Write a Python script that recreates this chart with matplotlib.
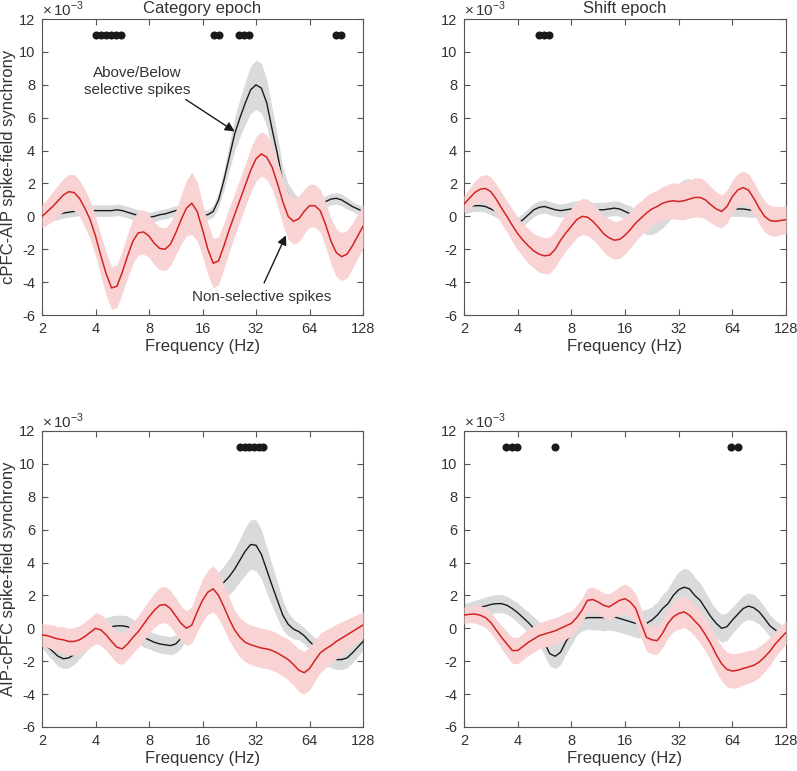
import matplotlib
matplotlib.use('Agg')
import matplotlib.pyplot as plt
import numpy as np

plt.rcParams['font.family'] = ['Liberation Sans', 'DejaVu Sans']
plt.rcParams['mathtext.fontset'] = 'custom'
plt.rcParams['mathtext.rm'] = 'Liberation Sans'

# frequency grid (Hz), 0.1 octave steps
freqs = [2.0, 2.144, 2.297, 2.462, 2.639, 2.828, 3.031, 3.249, 3.482, 3.732,
         4.0, 4.287, 4.595, 4.925, 5.278, 5.657, 6.063, 6.498, 6.964, 7.464,
         8.0, 8.574, 9.19, 9.849, 10.556, 11.314, 12.126, 12.996, 13.929, 14.929,
         16.0, 17.148, 18.379, 19.698, 21.112, 22.627, 24.251, 25.992, 27.858, 29.857,
         32.0, 34.297, 36.758, 39.397, 42.224, 45.255, 48.503, 51.984, 55.715, 59.714,
         64.0, 68.594, 73.517, 78.793, 84.449, 90.51, 97.006, 103.968, 111.43, 119.428,
         128.0]

# cPFC-AIP, category epoch (x 1e-3)
k_cat_cpfc = [0.0, 0.0, 0.05, 0.1, 0.2, 0.25, 0.3, 0.35, 0.35, 0.35,
              0.35, 0.35, 0.35, 0.35, 0.4, 0.35, 0.25, 0.15, 0.05, 0.0,
              -0.05, 0.0, 0.1, 0.15, 0.25, 0.35, 0.4, 0.45, 0.45, 0.35,
              0.1, 0.1, 0.3, 1.0, 2.2, 3.6, 5.0, 6.0, 6.9, 7.7,
              8.0, 7.8, 6.9, 5.3, 3.8, 2.1, 1.3, 1.0, 0.65, 0.55,
              0.6, 0.6, 0.7, 0.9, 1.05, 1.1, 1.0, 0.8, 0.6, 0.45,
              0.3]
k_cat_cpfc_sem = [0.3, 0.3, 0.3, 0.3, 0.3, 0.3, 0.3, 0.3, 0.35, 0.35,
                  0.35, 0.35, 0.35, 0.35, 0.35, 0.35, 0.35, 0.35, 0.35, 0.35,
                  0.3, 0.3, 0.3, 0.3, 0.3, 0.3, 0.3, 0.3, 0.3, 0.3,
                  0.3, 0.3, 0.35, 0.45, 0.6, 0.8, 1.0, 1.15, 1.3, 1.45,
                  1.5, 1.5, 1.4, 1.3, 1.1, 0.9, 0.7, 0.5, 0.4, 0.35,
                  0.35, 0.35, 0.35, 0.35, 0.35, 0.35, 0.35, 0.35, 0.3, 0.3,
                  0.3]
r_cat_cpfc = [0.0, 0.3, 0.6, 0.95, 1.3, 1.5, 1.45, 1.1, 0.5, -0.2,
              -1.2, -2.4, -3.5, -4.35, -4.25, -3.4, -2.4, -1.5, -1.0, -0.95,
              -1.2, -1.65, -1.95, -2.0, -1.7, -1.0, -0.2, 0.5, 0.8, 0.3,
              -0.8, -2.0, -2.85, -2.7, -1.8, -0.8, 0.1, 1.0, 1.9, 2.8,
              3.5, 3.8, 3.6, 3.0, 2.0, 0.9, 0.0, -0.3, -0.15, 0.3,
              0.65, 0.65, 0.35, -0.5, -1.5, -2.2, -2.45, -2.3, -1.8, -1.2,
              -0.6]
r_cat_cpfc_sem = [0.7, 0.8, 0.9, 0.95, 1.0, 1.05, 1.1, 1.1, 1.15, 1.15,
                  1.2, 1.25, 1.3, 1.3, 1.3, 1.3, 1.35, 1.35, 1.35, 1.35,
                  1.3, 1.3, 1.3, 1.3, 1.3, 1.35, 1.5, 1.7, 1.9, 1.8,
                  1.6, 1.55, 1.5, 1.45, 1.4, 1.35, 1.3, 1.3, 1.3, 1.35,
                  1.35, 1.35, 1.35, 1.35, 1.35, 1.4, 1.4, 1.4, 1.4, 1.35,
                  1.3, 1.3, 1.3, 1.35, 1.4, 1.45, 1.45, 1.45, 1.4, 1.35,
                  1.3]

# cPFC-AIP, shift epoch
k_sft_cpfc = [0.5, 0.6, 0.65, 0.65, 0.6, 0.45, 0.3, 0.1, -0.1, -0.3,
              -0.4, -0.2, 0.1, 0.4, 0.55, 0.6, 0.5, 0.4, 0.35, 0.4,
              0.45, 0.5, 0.5, 0.45, 0.4, 0.4, 0.4, 0.45, 0.5, 0.45,
              0.3, 0.15, -0.1, -0.35, -0.5, -0.5, -0.3, 0.0, 0.4, 0.8,
              1.2, 1.45, 1.5, 1.3, 1.0, 0.75, 0.6, 0.5, 0.5, 0.45,
              0.45, 0.45, 0.45, 0.4, 0.35, 0.3, 0.25, 0.2, 0.1, 0.05,
              0.0]
k_sft_cpfc_sem = [0.35, 0.35, 0.35, 0.35, 0.35, 0.35, 0.35, 0.35, 0.35, 0.35,
                  0.35, 0.4, 0.4, 0.4, 0.4, 0.4, 0.4, 0.4, 0.4, 0.4,
                  0.45, 0.45, 0.45, 0.45, 0.45, 0.45, 0.45, 0.45, 0.45, 0.45,
                  0.45, 0.5, 0.5, 0.55, 0.6, 0.6, 0.65, 0.7, 0.75, 0.8,
                  0.8, 0.8, 0.8, 0.75, 0.7, 0.65, 0.6, 0.55, 0.45, 0.45,
                  0.45, 0.45, 0.45, 0.45, 0.4, 0.4, 0.4, 0.35, 0.35, 0.35,
                  0.35]
r_sft_cpfc = [0.75, 1.1, 1.45, 1.65, 1.7, 1.5, 1.05, 0.5, 0.0, -0.55,
              -1.05, -1.45, -1.8, -2.1, -2.3, -2.4, -2.35, -2.0, -1.45, -1.0,
              -0.6, -0.2, 0.0, -0.05, -0.3, -0.65, -1.05, -1.3, -1.45, -1.4,
              -1.15, -0.8, -0.4, -0.1, 0.2, 0.45, 0.6, 0.8, 0.9, 0.95,
              0.9, 0.95, 1.05, 1.15, 1.15, 1.0, 0.7, 0.45, 0.3, 0.6,
              1.2, 1.6, 1.75, 1.6, 1.1, 0.5, 0.0, -0.25, -0.3, -0.25,
              -0.2]
r_sft_cpfc_sem = [0.5, 0.6, 0.7, 0.8, 0.85, 0.9, 0.9, 0.95, 0.95, 1.0,
                  1.0, 1.0, 1.05, 1.05, 1.1, 1.1, 1.1, 1.1, 1.1, 1.1,
                  1.1, 1.1, 1.1, 1.1, 1.1, 1.1, 1.1, 1.15, 1.15, 1.15,
                  1.15, 1.1, 1.1, 1.05, 1.05, 1.0, 1.0, 1.0, 1.05, 1.1,
                  1.1, 1.15, 1.15, 1.2, 1.2, 1.15, 1.1, 1.05, 1.0, 1.0,
                  1.0, 1.0, 1.0, 1.0, 1.0, 0.95, 0.95, 0.9, 0.9, 0.85,
                  0.85]

# AIP-cPFC, category epoch
k_cat_aip = [-0.7, -1.1, -1.4, -1.7, -1.85, -1.8, -1.6, -1.25, -0.9, -0.55,
             -0.3, -0.1, 0.05, 0.1, 0.15, 0.15, 0.1, -0.1, -0.3, -0.55,
             -0.7, -0.85, -0.95, -1.0, -1.05, -0.95, -0.6, -0.1, 0.3, 0.8,
             1.3, 1.8, 2.1, 2.45, 2.8, 3.15, 3.6, 4.15, 4.7, 5.1,
             5.05, 4.5, 3.55, 2.6, 1.7, 0.8, 0.25, -0.05, -0.2, -0.45,
             -0.8, -1.1, -1.4, -1.65, -1.8, -1.9, -1.9, -1.8, -1.5, -1.15,
             -0.8]
k_cat_aip_sem = [0.5, 0.5, 0.55, 0.6, 0.6, 0.6, 0.6, 0.6, 0.6, 0.6,
                 0.6, 0.6, 0.6, 0.65, 0.65, 0.65, 0.65, 0.65, 0.6, 0.6,
                 0.55, 0.55, 0.55, 0.55, 0.55, 0.55, 0.6, 0.6, 0.7, 0.75,
                 0.8, 0.85, 0.9, 0.95, 1.0, 1.1, 1.2, 1.3, 1.45, 1.5,
                 1.55, 1.5, 1.4, 1.25, 1.1, 0.9, 0.7, 0.6, 0.5, 0.5,
                 0.5, 0.55, 0.55, 0.6, 0.6, 0.6, 0.6, 0.6, 0.6, 0.55,
                 0.5]
r_cat_aip = [-0.4, -0.45, -0.55, -0.65, -0.7, -0.8, -0.8, -0.7, -0.5, -0.25,
             0.0, -0.1, -0.4, -0.8, -1.15, -1.25, -0.95, -0.55, -0.2, 0.25,
             0.7, 1.1, 1.4, 1.45, 1.2, 0.75, 0.3, 0.0, 0.2, 1.0,
             1.7, 2.2, 2.4, 2.0, 1.3, 0.55, -0.1, -0.55, -0.85, -1.0,
             -1.1, -1.2, -1.25, -1.35, -1.5, -1.7, -1.9, -2.2, -2.55, -2.7,
             -2.45, -1.95, -1.5, -1.25, -1.05, -0.8, -0.6, -0.4, -0.2, 0.0,
             0.2]
r_cat_aip_sem = [0.7, 0.7, 0.75, 0.75, 0.8, 0.8, 0.85, 0.85, 0.9, 0.9,
                 0.95, 0.95, 0.95, 0.95, 0.95, 0.95, 0.95, 0.95, 0.95, 1.0,
                 1.0, 1.05, 1.1, 1.1, 1.1, 1.1, 1.05, 1.05, 1.1, 1.2,
                 1.3, 1.35, 1.4, 1.4, 1.35, 1.3, 1.2, 1.2, 1.2, 1.2,
                 1.2, 1.2, 1.2, 1.2, 1.2, 1.2, 1.25, 1.25, 1.3, 1.3,
                 1.3, 1.25, 1.2, 1.15, 1.1, 1.05, 1.0, 0.95, 0.9, 0.85,
                 0.8]

# AIP-cPFC, shift epoch
k_sft_aip = [1.0, 1.1, 1.2, 1.3, 1.35, 1.45, 1.5, 1.5, 1.4, 1.2,
             0.95, 0.65, 0.35, 0.0, -0.3, -0.9, -1.55, -1.7, -1.45, -0.8,
             -0.3, 0.3, 0.55, 0.65, 0.65, 0.65, 0.65, 0.7, 0.7, 0.6,
             0.5, 0.4, 0.3, 0.25, 0.3, 0.5, 0.8, 1.2, 1.5, 2.0,
             2.35, 2.5, 2.4, 2.0, 1.7, 1.2, 0.7, 0.3, 0.0, 0.1,
             0.5, 0.85, 1.2, 1.35, 1.25, 1.0, 0.6, 0.15, -0.1, -0.3,
             -0.5]
k_sft_aip_sem = [0.5, 0.5, 0.5, 0.5, 0.55, 0.55, 0.55, 0.55, 0.55, 0.55,
                 0.6, 0.6, 0.65, 0.7, 0.7, 0.75, 0.75, 0.75, 0.75, 0.75,
                 0.7, 0.7, 0.7, 0.7, 0.75, 0.75, 0.8, 0.8, 0.85, 0.85,
                 0.85, 0.85, 0.85, 0.85, 0.85, 0.8, 0.8, 0.85, 0.9, 1.0,
                 1.1, 1.15, 1.15, 1.1, 1.05, 1.0, 0.9, 0.85, 0.85, 0.85,
                 0.8, 0.8, 0.8, 0.8, 0.8, 0.75, 0.7, 0.65, 0.6, 0.55,
                 0.5]
r_sft_aip = [0.8, 0.85, 0.87, 0.8, 0.65, 0.35, -0.1, -0.55, -0.95, -1.35,
             -1.35, -1.1, -0.85, -0.65, -0.45, -0.35, -0.25, -0.15, 0.0, 0.15,
             0.3, 0.65, 1.1, 1.7, 1.75, 1.6, 1.4, 1.3, 1.5, 1.7,
             1.8, 1.6, 1.2, 0.3, -0.55, -0.7, -0.75, -0.3, 0.3, 0.7,
             0.9, 1.0, 0.8, 0.45, 0.1, -0.4, -0.95, -1.6, -2.15, -2.5,
             -2.6, -2.55, -2.45, -2.35, -2.25, -2.05, -1.75, -1.4, -0.95, -0.6,
             -0.25]
r_sft_aip_sem = [0.5, 0.5, 0.55, 0.6, 0.6, 0.65, 0.65, 0.7, 0.75, 0.8,
                 0.8, 0.8, 0.8, 0.8, 0.8, 0.8, 0.8, 0.8, 0.8, 0.8,
                 0.75, 0.75, 0.75, 0.75, 0.75, 0.75, 0.75, 0.8, 0.8, 0.85,
                 0.9, 0.9, 0.9, 0.9, 0.85, 0.85, 0.85, 0.85, 0.9, 0.9,
                 0.95, 0.95, 0.95, 0.95, 1.0, 1.0, 1.05, 1.05, 1.05, 1.05,
                 1.05, 1.05, 1.0, 1.0, 0.95, 0.95, 0.9, 0.85, 0.8, 0.75,
                 0.7]

# significant frequencies (dots at top)
sig_cat_cpfc = [4.03, 4.3, 4.59, 4.89, 5.22, 5.58, 18.5, 19.8, 25.7, 27.4, 29.3, 90.5, 96.5]
sig_sft_cpfc = [5.28, 5.62, 6.0]
sig_cat_aip = [26.0, 27.7, 29.4, 31.3, 33.2, 35.0]
sig_sft_aip = [3.44, 3.7, 3.97, 6.5, 63.0, 68.5]

xticks = [2, 4, 8, 16, 32, 64, 128]
yticks = [-6, -4, -2, 0, 2, 4, 6, 8, 10, 12]

GRAY_BAND = '#d9dadc'
PINK_BAND = '#f9d3d3'
RED = '#d42222'
BLACK = '#1a1a1a'
TXT = '#333333'
AX = '#555555'


def draw_panel(ax, k, k_sem, r, r_sem, sig):
    f = np.array(freqs)
    k, k_sem, r, r_sem = map(np.array, (k, k_sem, r, r_sem))
    ax.fill_between(f, k - k_sem, k + k_sem, color=GRAY_BAND, lw=0, zorder=1)
    ax.plot(f, k, color=BLACK, lw=1.0, zorder=2)
    ax.fill_between(f, r - r_sem, r + r_sem, color=PINK_BAND, lw=0, zorder=3)
    ax.plot(f, r, color=RED, lw=1.1, zorder=4)
    ax.plot(sig, [11] * len(sig), 'o', color=BLACK, ms=5.8, mec='none', zorder=5)

    ax.set_xscale('log', base=2)
    ax.set_xlim(2, 128)
    ax.set_ylim(-6, 12)
    ax.set_xticks(xticks)
    ax.set_xticklabels([str(t) for t in xticks])
    ax.minorticks_off()
    ax.set_yticks(yticks)
    ax.set_yticklabels([str(t) for t in yticks])
    ax.tick_params(direction='in', top=True, right=True, length=4, width=0.8,
                   color=AX, labelcolor=TXT, labelsize=10.5, pad=5)
    for s in ax.spines.values():
        s.set_color(AX)
        s.set_linewidth(0.8)
    ax.set_xlabel('Frequency (Hz)', fontsize=12, color=TXT, labelpad=2)
    ax.text(0.0, 1.0, r'$\times\,10^{-3}$', transform=ax.transAxes,
            ha='left', va='bottom', fontsize=11, color=TXT)


fig = plt.figure(figsize=(7.97, 7.71), dpi=100)
ax1 = fig.add_axes([0.0527, 0.5914, 0.4028, 0.3839])
ax2 = fig.add_axes([0.5822, 0.5914, 0.4040, 0.3839])
ax3 = fig.add_axes([0.0527, 0.0571, 0.4028, 0.3839])
ax4 = fig.add_axes([0.5822, 0.0571, 0.4040, 0.3839])

draw_panel(ax1, k_cat_cpfc, k_cat_cpfc_sem, r_cat_cpfc, r_cat_cpfc_sem, sig_cat_cpfc)
draw_panel(ax2, k_sft_cpfc, k_sft_cpfc_sem, r_sft_cpfc, r_sft_cpfc_sem, sig_sft_cpfc)
draw_panel(ax3, k_cat_aip, k_cat_aip_sem, r_cat_aip, r_cat_aip_sem, sig_cat_aip)
draw_panel(ax4, k_sft_aip, k_sft_aip_sem, r_sft_aip, r_sft_aip_sem, sig_sft_aip)

ax1.set_title('Category epoch', fontsize=12, color=TXT, pad=4)
ax2.set_title('Shift epoch', fontsize=12, color=TXT, pad=4)
ax1.set_ylabel('cPFC-AIP spike-field synchrony', fontsize=12, color=TXT, labelpad=2)
ax3.set_ylabel('AIP-cPFC spike-field synchrony', fontsize=12, color=TXT, labelpad=2)

# annotations
arrow = dict(arrowstyle='-|>', color=BLACK, lw=1.0, mutation_scale=14)
ax1.text(6.9, 8.2, 'Above/Below\nselective spikes', ha='center', va='center',
         fontsize=11, color=TXT, linespacing=1.2, zorder=6)
ax1.annotate('', xy=(25.0, 5.07), xytext=(12.5, 7.2), arrowprops=arrow, zorder=6)
ax1.text(34.6, -4.9, 'Non-selective spikes', ha='center', va='center',
         fontsize=11, color=TXT, zorder=6)
ax1.annotate('', xy=(47.9, -1.0), xytext=(35.0, -4.2), arrowprops=arrow, zorder=6)

fig.savefig('out.png', dpi=100)
